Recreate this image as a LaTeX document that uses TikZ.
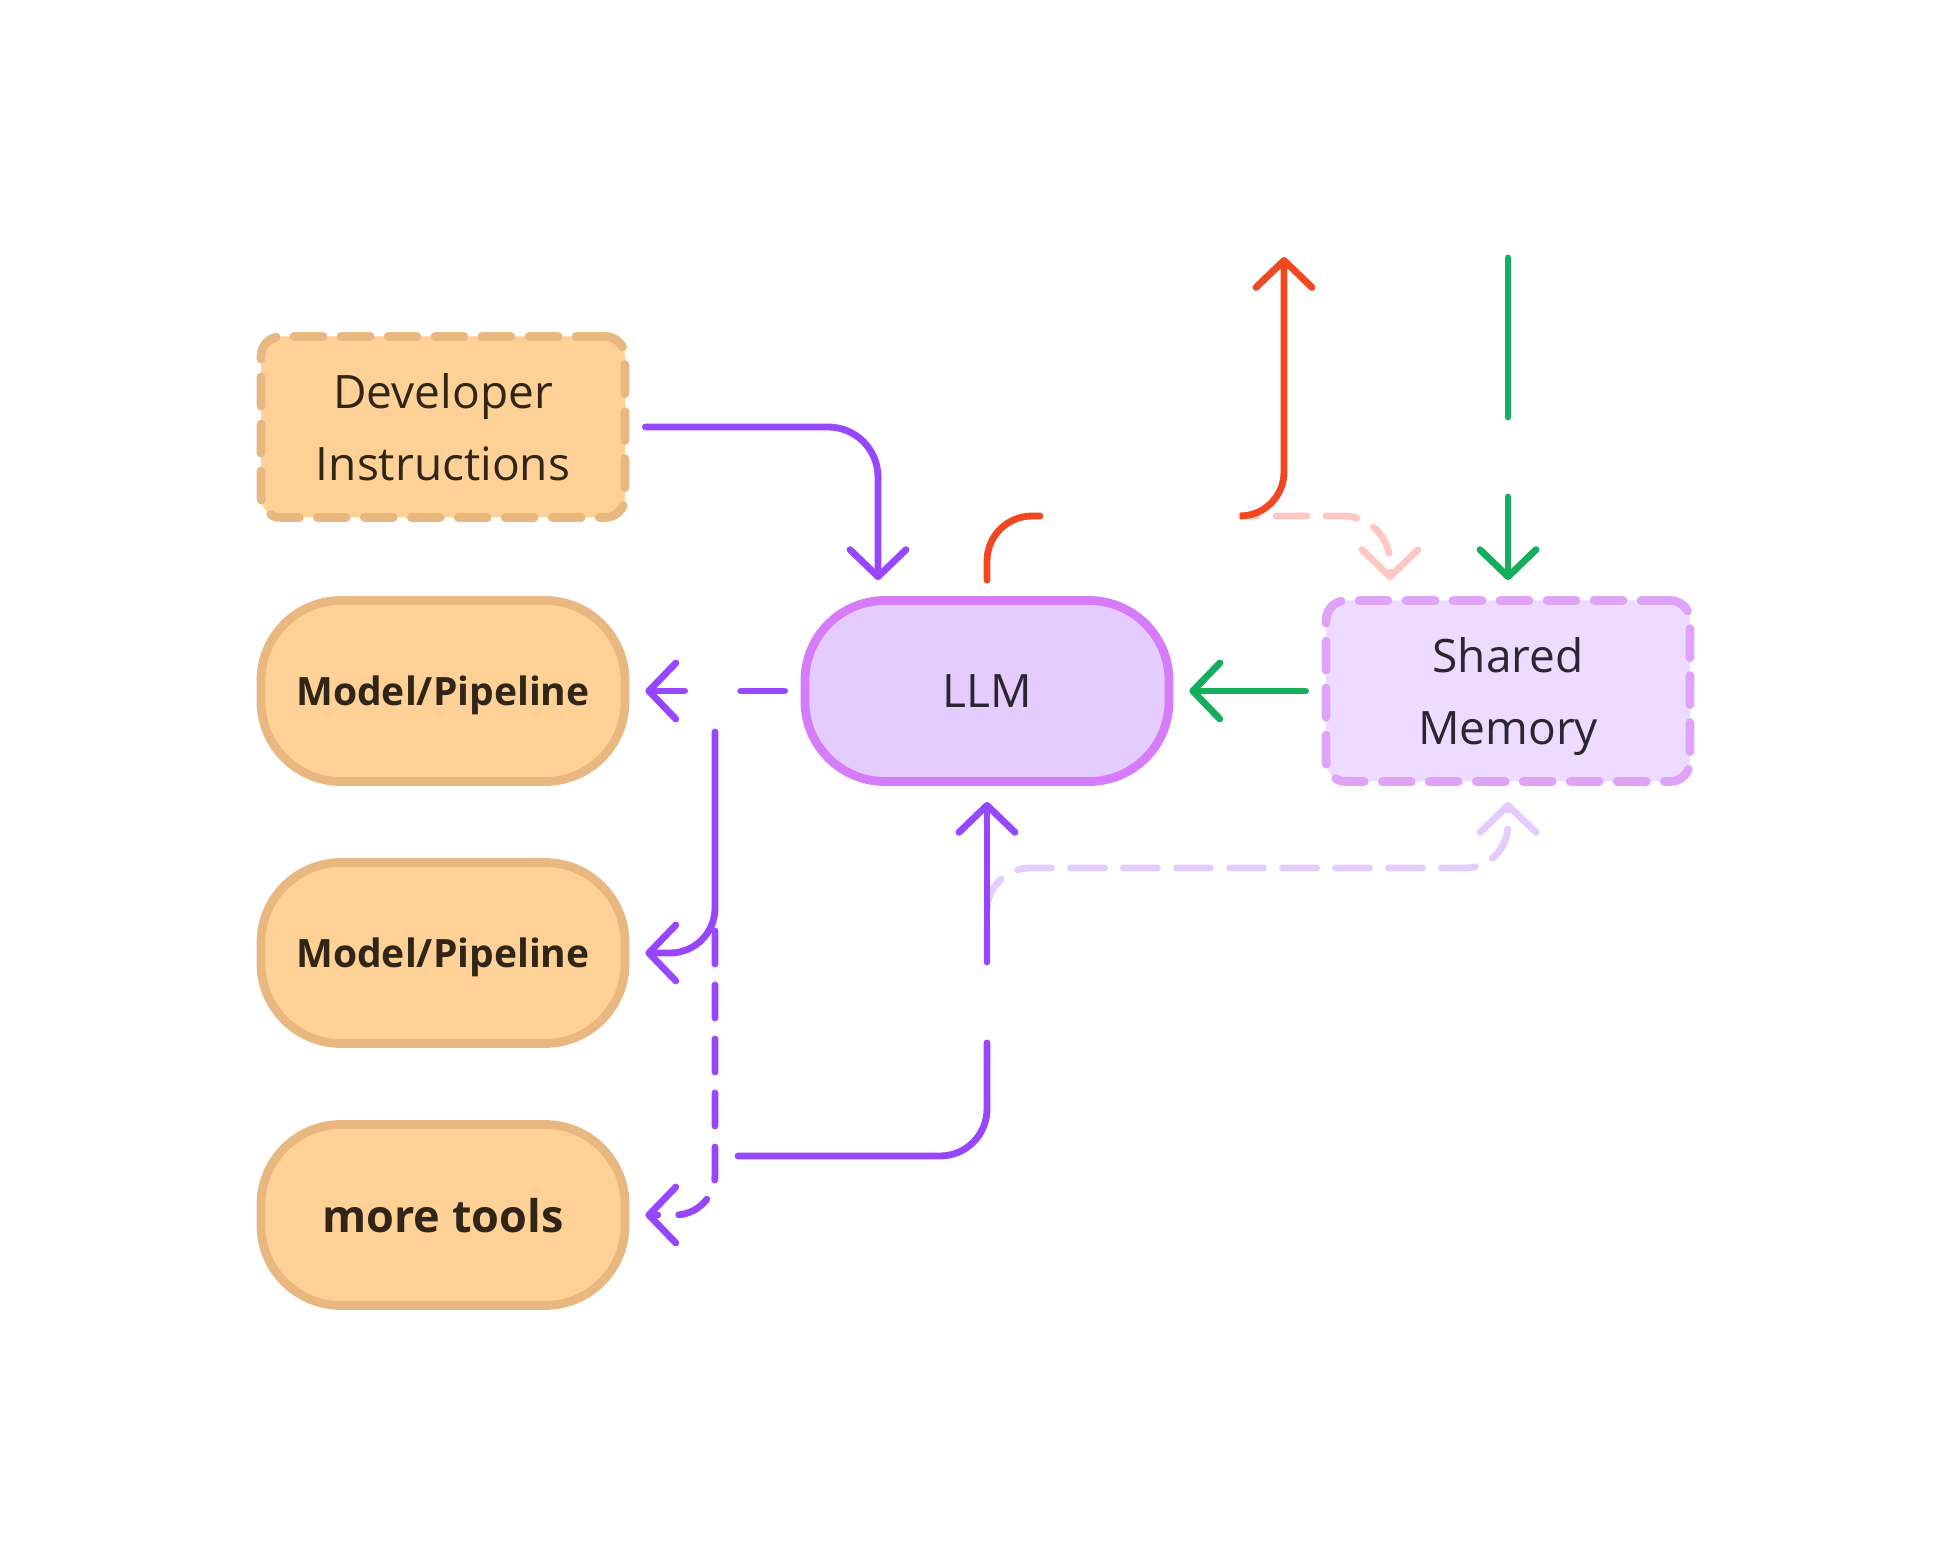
\documentclass[tikz,border=0pt]{standalone}
\usepackage{fontspec}
\setmainfont{Open Sans}
\usetikzlibrary{arrows.meta}

\definecolor{orangefill}{HTML}{FFD197}
\definecolor{orangeline}{HTML}{E8B880}
\definecolor{llmfill}{HTML}{E4CCFF}
\definecolor{llmline}{HTML}{D67CFB}
\definecolor{memfill}{HTML}{EDDCFF}
\definecolor{memline}{HTML}{E0A3FA}
\definecolor{arrpurple}{HTML}{9747FF}
\definecolor{arrred}{HTML}{F24822}
\definecolor{arrgreen}{HTML}{14AE5C}
\definecolor{arrpink}{HTML}{FFC7C2}
\definecolor{arrlilac}{HTML}{E4CCFF}
\definecolor{txtbrown}{HTML}{302617}
\definecolor{txtdark}{HTML}{2C2630}

\begin{document}
\begin{tikzpicture}[
  box/.style={rectangle, minimum width=3.64cm, minimum height=1.81cm, inner sep=0pt,
    line width=2.5pt, align=center, text depth=0pt},
  tool/.style={box, draw=orangeline, fill=orangefill, rounded corners=0.8cm, text=txtbrown,
    font=\bfseries\fontsize{11.1pt}{14pt}\selectfont},
  note/.style={box, draw=orangeline, fill=orangefill, rounded corners=0.2cm, line cap=round,
    dash pattern=on 0.29cm off 0.18cm, text=txtbrown, font=\fontsize{13.1pt}{20.6pt}\selectfont},
  wire/.style={line width=1.95pt, line cap=round, rounded corners=0.45cm},
  head/.style={-{Straight Barb[round,length=0.27cm,width=0.56cm]}, shorten >=0.16cm},
  leave/.style={shorten <=0.16cm}
]
\fill[white] (0,0) rectangle (19.52,15.67);
\useasboundingbox (0,0) rectangle (19.52,15.67);

% boxes
\node[note] (dev) at (4.43,11.40) {Developer\\Instructions};
\node[tool] (mp1) at (4.43,8.76) {Model/Pipeline};
\node[tool] (mp2) at (4.43,6.14) {Model/Pipeline};
\node[tool, font=\bfseries\fontsize{12.8pt}{15pt}\selectfont] (tools) at (4.43,3.52) {more tools};
\node[box, draw=llmline, fill=llmfill, rounded corners=0.8cm, text=txtdark,
  font=\fontsize{13.1pt}{20.6pt}\selectfont] (llm) at (9.87,8.76) {LLM};
\node[box, draw=memline, fill=memfill, rounded corners=0.2cm, line cap=round,
  dash pattern=on 0.29cm off 0.18cm, text=txtdark,
  font=\fontsize{13.1pt}{20.6pt}\selectfont] (mem) at (15.08,8.76) {Shared\\Memory};

% free ends
\coordinate (outA) at (10.40,10.51);
\coordinate (outB) at (12.41,10.51);
\coordinate (out) at (12.84,13.26);
\coordinate (memin) at (15.08,13.09);
\coordinate (splitA) at (7.15,8.35);
\coordinate (splitB) at (7.15,6.36);
\coordinate (toolout) at (7.38,4.11);
\coordinate (gapA) at (9.87,5.24);
\coordinate (gapB) at (9.87,6.05);
\coordinate (memturn) at (15.08,6.99);

% connectors
\draw[wire, arrpurple, head, leave, rounded corners=0.5cm] (dev.east) -| ([xshift=-1.09cm]llm.north);
\draw[wire, arrpink, head, rounded corners=0.47cm, dash pattern=on 0.31cm off 0.19cm, dash phase=0.15cm]
  (outB) -| ([xshift=-1.18cm]mem.north);
\draw[wire, arrred, leave] (llm.north) |- (outA);
\draw[wire, arrred, head, rounded corners=0.44cm] (outB) -| (out);
\draw[wire, arrgreen, head, dash pattern=on 1.59cm off 0.8cm on 3cm] (memin) -- (mem.north);
\draw[wire, arrgreen, head, leave] (mem.west) -- (llm.east);
\draw[wire, arrpurple, head, leave, dash pattern=on 0.44cm off 0.56cm] (llm.west) -- (mp1.east);
\draw[wire, arrpurple, head] (splitA) |- (mp2.east);
\draw[wire, arrpurple, head, rounded corners=0.4cm, dash pattern=on 0.33cm off 0.21cm] (splitB) |- (tools.east);
\draw[wire, arrlilac, head, rounded corners=0.43cm, dash pattern=on 0.34cm off 0.19cm]
  (gapB) |- (memturn) -- (mem.south);
\draw[wire, arrpurple, rounded corners=0.47cm] (toolout) -| (gapA);
\draw[wire, arrpurple, head] (gapB) -- (llm.south);
\end{tikzpicture}
\end{document}
